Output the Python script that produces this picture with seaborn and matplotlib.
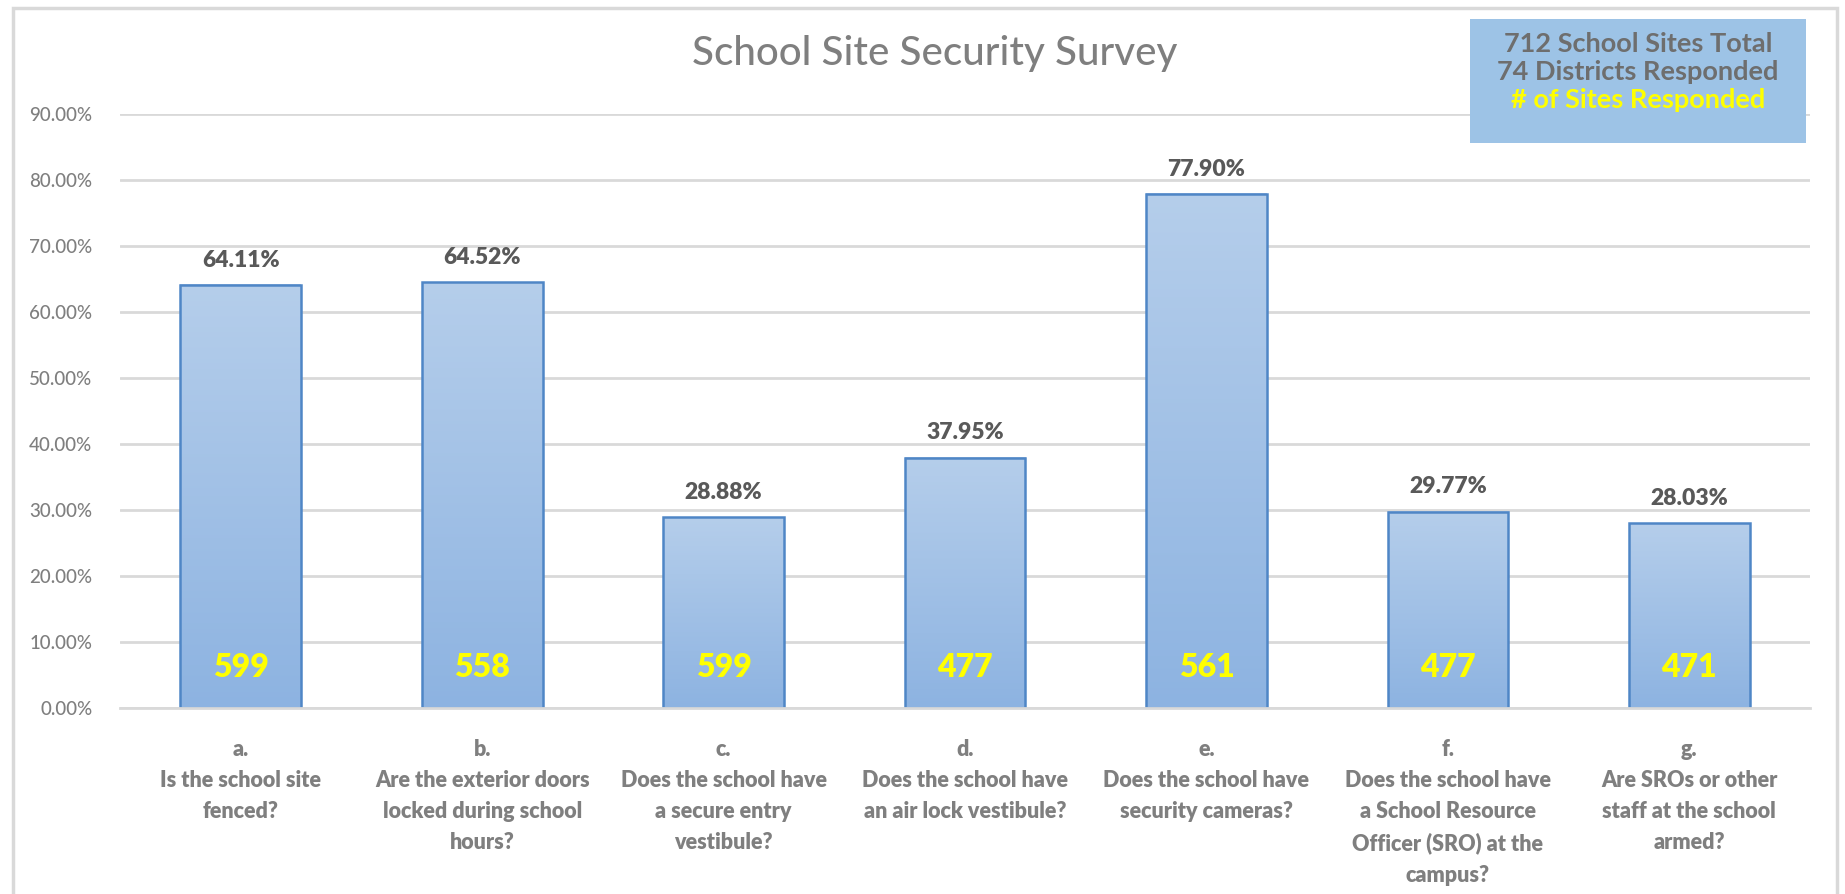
import matplotlib
matplotlib.use('Agg')
import matplotlib.pyplot as plt
import seaborn as sns
import numpy as np
import pandas as pd
from matplotlib.patches import Rectangle
from matplotlib.colors import LinearSegmentedColormap

# survey questions and results
letters = ['a.', 'b.', 'c.', 'd.', 'e.', 'f.', 'g.']
questions = [
    'Is the school site\nfenced?',
    'Are the exterior doors\nlocked during school\nhours?',
    'Does the school have\na secure entry\nvestibule?',
    'Does the school have\nan air lock vestibule?',
    'Does the school have\nsecurity cameras?',
    'Does the school have\na School Resource\nOfficer (SRO) at the\ncampus?',
    'Are SROs or other\nstaff at the school\narmed?',
]
pct_yes = [64.11, 64.52, 28.88, 37.95, 77.90, 29.77, 28.03]
sites_responded = [599, 558, 599, 477, 561, 477, 471]
y_ticks = [0, 10, 20, 30, 40, 50, 60, 70, 80, 90]
info_lines = ['712 School Sites Total', '74 Districts Responded', '# of Sites Responded']

df = pd.DataFrame({
    'question': [l + '\n' + q for l, q in zip(letters, questions)],
    'pct': pct_yes,
    'sites': sites_responded,
})

sns.set_theme(style='white')
plt.rcParams['font.family'] = ['Lato', 'DejaVu Sans']

W, H = 1845, 894
fig = plt.figure(figsize=(W / 100, H / 100), dpi=100)
fig.patch.set_facecolor('white')

# outer chart border
fig.add_artist(Rectangle((13 / W, -0.01), (1837 - 13) / W, (H - 8) / H + 0.01,
                         transform=fig.transFigure, fill=False,
                         edgecolor='#D9D9D9', linewidth=2.5))

ax = fig.add_axes([120 / W, (H - 708) / H, (1810 - 120) / W, (708 - 114) / H])
sns.barplot(data=df, x='question', y='pct', ax=ax, width=0.5, color='#A3C2E8',
            saturation=1, edgecolor='#4F86C6', linewidth=1.8)

ax.set_ylim(0, 90)
xlim = ax.get_xlim()

# vertical gradient fill on each bar
cmap = LinearSegmentedColormap.from_list('bar', ['#8DB3E1', '#B5CEEB'])
grad = np.linspace(0, 1, 256).reshape(-1, 1)
for p in ax.patches:
    x0, w, h = p.get_x(), p.get_width(), p.get_height()
    ax.imshow(grad, extent=[x0, x0 + w, 0, h], origin='lower', aspect='auto',
              cmap=cmap, zorder=1)
    p.set_facecolor('none')
    p.set_zorder(1.5)
ax.set_xlim(xlim)
ax.set_ylim(0, 90)

# labels
for i, (v, n) in enumerate(zip(pct_yes, sites_responded)):
    ax.annotate(f'{v:.2f}%', (i, v), xytext=(0, 13), textcoords='offset points',
                ha='center', va='baseline', fontsize=16.5, fontweight='heavy',
                color='#595959')
    ax.text(i, 4.7, str(n), ha='center', va='baseline', fontsize=23,
            fontweight='heavy', color='#FFFF00', zorder=3)

ax.set_yticks(y_ticks)
ax.set_yticklabels([f'{t:.2f}%' for t in y_ticks], fontsize=13.5, color='#7F7F7F',
                   fontweight='medium')
ax.set_xticks(range(len(df)))
ax.set_xticklabels(df['question'], fontsize=15.5, fontweight='heavy', color='#7F7F7F',
                   linespacing=1.6, va='top')
ax.tick_params(axis='y', length=0, pad=20)
ax.tick_params(axis='x', length=0, pad=22)

ax.grid(axis='y', color='#D9D9D9', linewidth=2)
ax.set_axisbelow(True)
for s in ['top', 'right', 'left']:
    ax.spines[s].set_visible(False)
ax.spines['bottom'].set_color('#D9D9D9')
ax.spines['bottom'].set_linewidth(2)
ax.set_xlabel('')
ax.set_ylabel('')

fig.text(935 / W, 1 - 53 / H, 'School Site Security Survey', ha='center', va='center',
         fontsize=29, color='#7F7F7F', fontweight='medium')

# info box
fig.add_artist(Rectangle((1470 / W, 1 - 143 / H), (1806 - 1470) / W, (143 - 19) / H,
                         transform=fig.transFigure, facecolor='#9DC3E6',
                         edgecolor='none', zorder=5))
info_colors = ['#6E6E6E', '#6E6E6E', '#FFFF00']
for k, (t, c) in enumerate(zip(info_lines, info_colors)):
    fig.text(1638 / W, 1 - (44 + 28 * k) / H, t, ha='center', va='center',
             fontsize=19.5, fontweight='bold', color=c, zorder=6)

plt.savefig('out.png', dpi=100)
